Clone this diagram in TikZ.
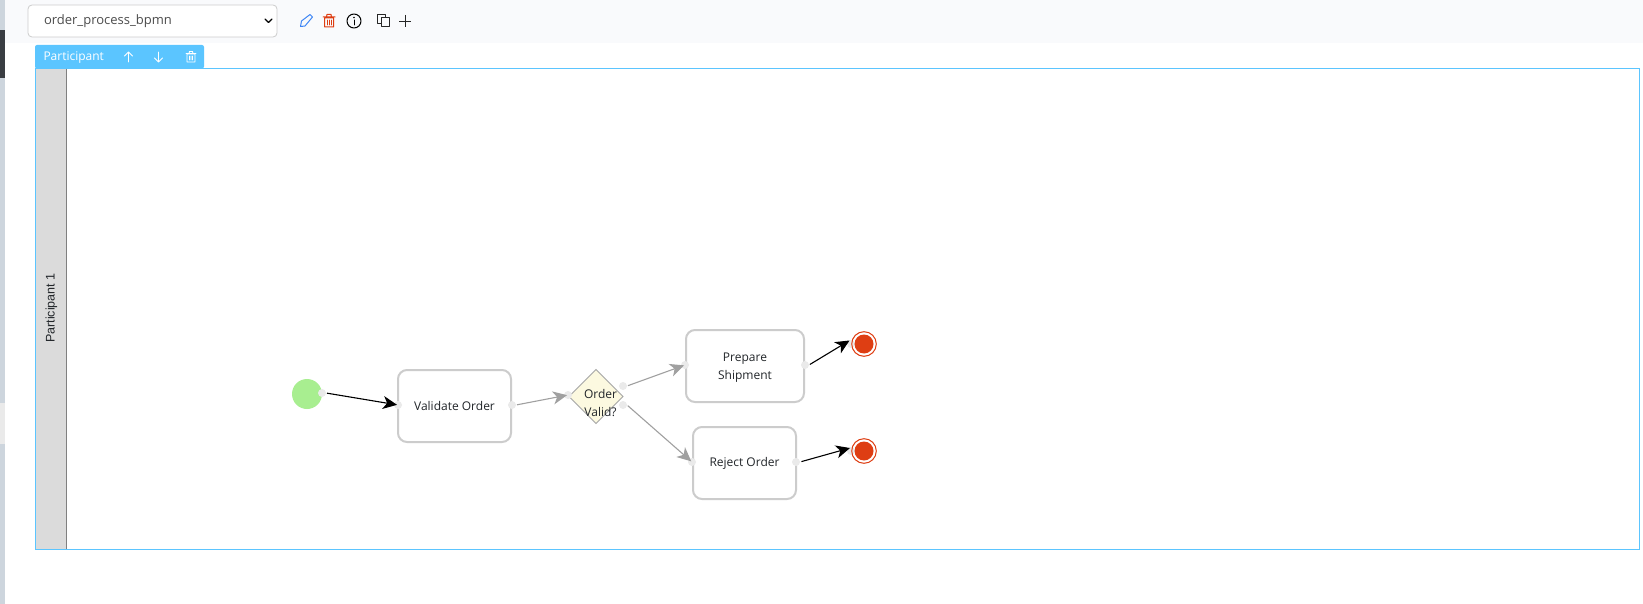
\documentclass[tikz,border=0pt]{standalone}
\usepackage{fontspec}
\setmainfont{Open Sans}
\newfontfamily\lanefont{Liberation Sans}
\usetikzlibrary{arrows.meta,shapes.geometric}
\definecolor{bandc}{HTML}{F9FAFC}
\definecolor{sidec}{HTML}{CDD5DD}
\definecolor{sidedark}{HTML}{393D42}
\definecolor{poolc}{HTML}{5BC5FF}
\definecolor{taskline}{HTML}{CCCCCC}
\definecolor{portc}{HTML}{EAEAEA}
\definecolor{startc}{HTML}{A8EE90}
\definecolor{endc}{HTML}{DE3E13}
\definecolor{gatec}{HTML}{FCF9E0}
\definecolor{textc}{HTML}{22262A}
\definecolor{penc}{HTML}{3D85F5}
\definecolor{flowg}{HTML}{A0A0A0}
\tikzset{
  x=1pt,y=-1pt,
  every node/.style={font=\fontsize{12}{18}\selectfont,text=textc,inner sep=0pt,outer sep=0pt,align=center},
  taskbox/.style={draw=taskline,line width=2pt,rounded corners=9pt,fill=white,minimum width=#1,minimum height=72pt},
  port/.style={circle,fill=portc,minimum size=8pt},
  flowblack/.style={draw=black,line width=1.1pt,-{Stealth[length=14pt,width=13pt,inset=4pt]}},
  flowgray/.style={draw=flowg,line width=1.1pt,-{Stealth[length=14pt,width=13pt,inset=4pt]}},
  endev/.style={circle,fill=endc,minimum size=19pt},
  toolicon/.style={line width=1pt,line cap=round,line join=round},
}
\begin{document}
\begin{tikzpicture}
\useasboundingbox (0,0) rectangle (1643,604);
\fill[white] (0,0) rectangle (1643,604);
\fill[bandc] (5,0) rectangle (1643,43);
\fill[sidec] (0,0) rectangle (4.5,604);
\fill[sidedark] (0,30) rectangle (4.5,78);
\fill[portc] (0,403) rectangle (4.5,444);
% selector
\node[draw=taskline,line width=.8pt,rounded corners=4pt,fill=white,minimum width=249pt,minimum height=32pt] (sel) at (152.5,21) {};
\node[anchor=west,font=\fontsize{13}{16}\selectfont,text=black!70] (seltext) at (44,21) {order\_process\_bpmn};
\draw[line width=1.2pt,line cap=round,line join=round] (265,19) -- (268.5,22.5) -- (272,19);
% icons
\draw[toolicon,draw=penc] (300.5,26.5) -- (301.5,21) -- (310,14.5) -- (312.5,17) -- (305,26) -- cycle;
\draw[toolicon,draw=endc] (324.5,18) rectangle (333.5,27) (323,17) -- (335,17) (326.5,17) -- (327,14.5) -- (331,14.5) -- (331.5,17);
\draw[toolicon,draw=endc,line width=.7pt] (327,20) -- (327,25) (329,20) -- (329,25) (331,20) -- (331,25);
\draw[toolicon,draw=black] (354,21) circle (7);
\fill[black] (354,17.5) circle (.8);
\draw[toolicon,draw=black] (354,20) -- (354,25);
\draw[toolicon,draw=black!85] (381,24) -- (377.5,24) -- (377.5,14.5) -- (385,14.5) -- (385,17);
\draw[toolicon,draw=black!85,fill=bandc] (381,17.5) rectangle (389,26.5);
\draw[line width=.8pt,draw=black!85] (399,21) -- (411,21) (405,15) -- (405,27);
% pool
\node[draw=poolc,line width=1pt,anchor=north west,minimum width=1604pt,minimum height=481pt] (pool) at (35.5,68.5) {};
\fill[black!14] (36,69) rectangle (66,548.5);
\draw[black!50,line width=1pt] (66.5,69) -- (66.5,548.5);
\node[rotate=90,font=\lanefont\fontsize{12.5}{14}\selectfont] (lane) at (51.5,308) {Participant 1};
% tab
\fill[poolc,rounded corners=2pt] (35,68.5) -- (35,45) -- (204,45) -- (204,68.5) -- cycle;
\node[text=white,anchor=west] (tab) at (43.5,57.5) {Participant};
\draw[white,line width=.9pt,line cap=round,line join=round] (128.5,62) -- (128.5,52) (124.5,56) -- (128.5,52) -- (132.5,56);
\draw[white,line width=.9pt,line cap=round,line join=round] (158.5,52) -- (158.5,62) (154.5,58) -- (158.5,62) -- (162.5,58);
\draw[white,line width=.9pt,line cap=round,line join=round] (187,54) rectangle (195,62) (186,53.5) -- (196,53.5) (189,53.5) -- (189.5,51.5) -- (192.5,51.5) -- (193,53.5) (189.5,56) -- (189.5,60) (191,56) -- (191,60) (192.5,56) -- (192.5,60);
% nodes
\node[circle,fill=startc,minimum size=30pt] (start) at (307,394) {};
\node[taskbox=113pt] (validate) at (454.5,406) {Validate Order};
\node[diamond,draw=black!35,line width=1pt,fill=gatec,minimum width=54pt,minimum height=54pt] (gate) at (596,396.5) {};
\node (gatetext) at (600.5,403.5) {Order\\Valid?};
\node[taskbox=118pt] (prepare) at (745,366) {};
\node (preparetext) at (745,367.5) {Prepare\\Shipment};
\node[taskbox=103pt] (reject) at (744.5,463) {Reject Order};
% ports
\node[port] (ps) at (322,393) {};
\node[port] (pvi) at (398,405) {};
\node[port] (pvo) at (512,405) {};
\node[port] (pgi) at (568,395) {};
\node[port] (pgu) at (623,386) {};
\node[port] (pgd) at (623,405) {};
\node[port] (ppi) at (685,365) {};
\node[port] (ppo) at (805,365) {};
\node[port] (pri) at (692,462) {};
\node[port] (pro) at (796,462) {};
\node[port] (peA) at (851,344) {};
\node[port] (peB) at (851,451) {};
\node[endev] (endA) at (864,344) {};
\node[endev] (endB) at (864,451) {};
\draw[endc,line width=1pt] (endA) circle (12.3) (endB) circle (12.3);
\coordinate (tA) at (849.5,340.5);
\coordinate (tB) at (850,448);
% connectors
\draw[flowblack,shorten <=1pt,shorten >=-3pt] (ps.east) -- (pvi);
\draw[flowgray,shorten <=1pt,shorten >=-3pt] (pvo.east) -- (pgi);
\draw[flowgray,shorten <=1pt,shorten >=-3pt] (pgu.east) -- (ppi);
\draw[flowgray,shorten <=1pt,shorten >=-3pt] (pgd.east) -- (pri);
\draw[flowblack,shorten <=1pt] (ppo.east) -- (tA);
\draw[flowblack,shorten <=1.5pt] (pro.east) -- (tB);
\end{tikzpicture}
\end{document}
